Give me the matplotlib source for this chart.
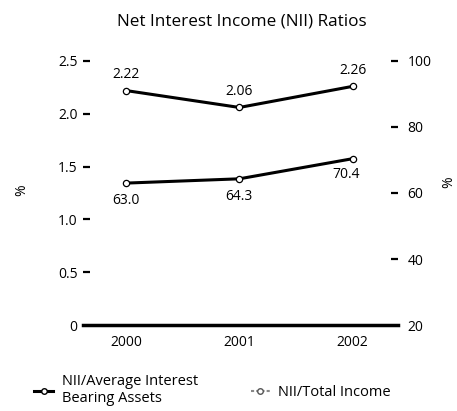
import matplotlib
matplotlib.use("Agg")
import matplotlib.pyplot as plt
from matplotlib.lines import Line2D

plt.rcParams['font.family'] = ['Open Sans', 'DejaVu Sans']

years = [2000, 2001, 2002]
year_labels = ['2000', '2001', '2002']
nii_assets = [2.22, 2.06, 2.26]        # left axis, %
nii_income = [63.0, 64.3, 70.4]        # right axis, %
left_ticks = [0, 0.5, 1.0, 1.5, 2.0, 2.5]
left_tick_labels = ['0', '0.5', '1.0', '1.5', '2.0', '2.5']
right_ticks = [20, 40, 60, 80, 100]
right_tick_labels = ['20', '40', '60', '80', '100']

fig = plt.figure(figsize=(4.57, 4.11), dpi=100)
ax = fig.add_axes([83/457, 1-325/411, (398-83)/457, (325-61)/411])
ax2 = ax.twinx()

ax.plot(years, nii_assets, color='black', lw=2.2, marker='o', ms=4.5,
        mfc='white', mec='black', mew=0.9, zorder=3)
ax2.plot(years, nii_income, color='black', lw=2.2, marker='o', ms=4.5,
         mfc='white', mec='black', mew=0.9, zorder=3)

ax.set_xlim(1999.62, 2002.4)
ax.set_ylim(0, 2.5)
ax2.set_ylim(20, 100)

for a in (ax, ax2):
    for s in ['top', 'left', 'right']:
        a.spines[s].set_visible(False)
ax.spines['bottom'].set_linewidth(2.5)
ax2.spines['bottom'].set_visible(False)

ax.set_yticks(left_ticks)
ax.set_yticklabels(left_tick_labels)
ax2.set_yticks(right_ticks)
ax2.set_yticklabels(right_tick_labels)
ax.set_xticks(years)
ax.set_xticklabels(year_labels)

ax.tick_params(axis='y', direction='in', length=5, width=1.6, pad=4, labelsize=10)
ax2.tick_params(axis='y', direction='in', length=5, width=1.6, pad=7, labelsize=10)
ax.tick_params(axis='x', length=0, pad=7, labelsize=10)
# the 0 / 20 ticks sit on the baseline
ax.yaxis.get_major_ticks()[0].tick1line.set_visible(False)
ax2.yaxis.get_major_ticks()[0].tick2line.set_visible(False)

# data labels
for x, v in zip(years, nii_assets):
    ax.annotate(f'{v:.2f}', (x, v), textcoords='offset points', xytext=(0, 6),
                ha='center', va='bottom', fontsize=10)
offs = [(0, -7), (0, -7), (-5, -6)]
for (x, v), o in zip(zip(years, nii_income), offs):
    ax2.annotate(f'{v:.1f}', (x, v), textcoords='offset points', xytext=o,
                 ha='center', va='top', fontsize=10)

fig.text(22/457, 1-190/411, '%', rotation=90, ha='center', va='center', fontsize=10)
fig.text(449/457, 1-182/411, '%', rotation=90, ha='center', va='center', fontsize=10)

fig.text(242/457, 1-22/411, 'Net Interest Income (NII) Ratios', ha='center',
         va='center', fontsize=12.3)

h1 = Line2D([], [], color='black', lw=2.2, marker='o', ms=4, mfc='white', mec='black')
h2 = Line2D([], [], color='#888888', lw=1.5, ls=(0, (1.5, 1)), marker='o', ms=4,
            mfc='white', mec='#555555')
fig.legend([h1, h2], ['NII/Average Interest\nBearing Assets', 'NII/Total Income'],
           loc='upper left', bbox_to_anchor=(0.075, 0.09), ncol=2, frameon=False,
           handlelength=1.3, handletextpad=0.6, columnspacing=3.6, fontsize=10.5,
           borderaxespad=0, borderpad=0)

fig.savefig('out.png', dpi=100)
